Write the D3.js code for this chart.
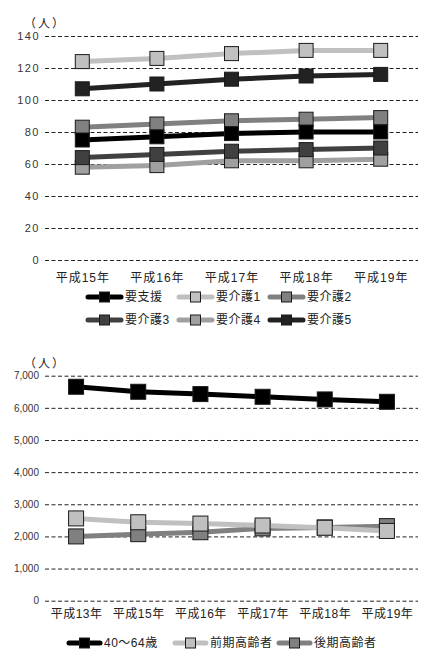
<!DOCTYPE html>
<html>
<head>
<meta charset="utf-8">
<script src="https://cdn.jsdelivr.net/npm/d3@7"></script>
<style>
    body { margin: 0; background: #fff; }
    text { font-family: "Liberation Sans", "Noto Sans CJK JP", sans-serif; fill: #222; }
</style>
</head>
<body>
<div id="chart"></div>
<script>
// top chart: 要支援・要介護 by year
const years1 = ["平成15年", "平成16年", "平成17年", "平成18年", "平成19年"];
const names1 = ["要支援", "要介護1", "要介護2", "要介護3", "要介護4", "要介護5"];
const yoshien = [75, 77, 79, 80, 80];
const kaigo1 = [124, 126, 129, 131, 131];
const kaigo2 = [83, 85, 87, 88, 89];
const kaigo3 = [64, 66, 68, 69, 70];
const kaigo4 = [58, 59, 62, 62, 63];
const kaigo5 = [107, 110, 113, 115, 116];
const ticks1 = [0, 20, 40, 60, 80, 100, 120, 140];

// bottom chart: population by age group
const years2 = ["平成13年", "平成15年", "平成16年", "平成17年", "平成18年", "平成19年"];
const names2 = ["40～64歳", "前期高齢者", "後期高齢者"];
const age40to64 = [6656, 6500, 6428, 6344, 6262, 6188];
const zenki = [2560, 2440, 2400, 2340, 2270, 2170];
const kouki = [2000, 2070, 2130, 2250, 2280, 2320];
const ticks2 = [0, 1000, 2000, 3000, 4000, 5000, 6000, 7000];

var svg = d3.select("#chart")
    .append("svg")
    .attr("width", 428)
    .attr("height", 650)
    .style("display", "block");

function drawChart(cfg) {
    var xScale = d3.scalePoint()
        .domain(cfg.cats)
        .range([45, 418])
        .padding(0.5);

    var yScale = d3.scaleLinear()
        .domain([0, d3.max(cfg.ticks)])
        .range([cfg.bottom, cfg.top]);

    // dashed grid lines + y labels
    var yAxis = svg.append("g")
        .attr("transform", "translate(45,0)")
        .call(d3.axisLeft(yScale)
            .tickValues(cfg.ticks)
            .tickSize(-373)
            .tickPadding(cfg.yPad)
            .tickFormat(cfg.yFormat));
    yAxis.select(".domain").remove();
    yAxis.selectAll(".tick line")
        .attr("stroke", "#222")
        .attr("stroke-dasharray", "4,2.5");
    yAxis.selectAll(".tick text")
        .style("font-size", cfg.yFont)
        .style("letter-spacing", cfg.ySpacing)
        .style("fill", "#333");

    var xAxis = svg.append("g")
        .attr("transform", `translate(0, ${cfg.bottom})`)
        .call(d3.axisBottom(xScale).tickSize(0).tickPadding(cfg.xPad));
    xAxis.select(".domain").remove();
    xAxis.selectAll(".tick text")
        .style("font-size", "12px")
        .style("letter-spacing", cfg.xSpacing)
        .style("fill", "#222");

    svg.append("text")
        .attr("x", 24)
        .attr("y", cfg.top - 8)
        .style("font-size", "12px")
        .style("letter-spacing", "2px")
        .text("（人）");

    var line = d3.line()
        .x(function (d, i) { return xScale(cfg.cats[i]); })
        .y(function (d) { return yScale(d); });

    // first series ends up on top
    var series = cfg.series.slice().reverse();

    series.forEach(function (s) {
        var g = svg.append("g");
        g.append("path")
            .datum(s.values)
            .attr("d", line)
            .attr("fill", "none")
            .attr("stroke", s.color)
            .attr("stroke-width", 5);
        g.selectAll("rect")
            .data(s.values)
            .join("rect")
            .attr("x", function (d, i) { return xScale(cfg.cats[i]) - cfg.mk / 2; })
            .attr("y", function (d) { return yScale(d) - cfg.mk / 2; })
            .attr("width", cfg.mk)
            .attr("height", cfg.mk)
            .attr("fill", s.color)
            .attr("stroke", "#1a1a1a")
            .attr("stroke-width", 1);
    });

    // legend
    cfg.series.forEach(function (s, i) {
        var lx = cfg.legX[i % cfg.legX.length],
            ly = cfg.legY[Math.floor(i / cfg.legX.length)];
        var lg = svg.append("g").attr("transform", `translate(${lx}, ${ly})`);
        lg.append("line")
            .attr("x1", 2).attr("x2", cfg.legLen - 2)
            .attr("y1", 0).attr("y2", 0)
            .attr("stroke", s.color)
            .attr("stroke-width", 5)
            .attr("stroke-linecap", "round");
        lg.append("rect")
            .attr("x", cfg.legLen / 2 - 5)
            .attr("y", -5)
            .attr("width", 10)
            .attr("height", 10)
            .attr("fill", s.color)
            .attr("stroke", "#1a1a1a");
        lg.append("text")
            .attr("x", cfg.legLen + 2)
            .attr("y", 0)
            .attr("dy", "0.36em")
            .style("font-size", "12px")
            .style("letter-spacing", "0.5px")
            .text(s.name);
    });
}

var colors1 = ["#000000", "#c0c0c0", "#808080", "#404040", "#a0a0a0", "#222222"];
var data1 = [yoshien, kaigo1, kaigo2, kaigo3, kaigo4, kaigo5];

drawChart({
    cats: years1,
    ticks: ticks1,
    top: 36,
    bottom: 260,
    yPad: 5,
    yFont: "11px",
    ySpacing: "1.5px",
    yFormat: d3.format("d"),
    xPad: 13,
    xSpacing: "1px",
    mk: 14,
    series: names1.map(function (n, i) { return {name: n, values: data1[i], color: colors1[i]}; }),
    legX: [86, 177, 268],
    legY: [297, 320],
    legLen: 37
});

var colors2 = ["#000000", "#c0c0c0", "#808080"];
var data2 = [age40to64, zenki, kouki];

drawChart({
    cats: years2,
    ticks: ticks2,
    top: 375.7,
    bottom: 600.7,
    yPad: 6,
    yFont: "10px",
    ySpacing: "0px",
    yFormat: d3.format(","),
    xPad: 9,
    xSpacing: "0.5px",
    mk: 15,
    series: names2.map(function (n, i) { return {name: n, values: data2[i], color: colors2[i]}; }),
    legX: [67, 173, 277],
    legY: [643],
    legLen: 35
});
</script>
</body>
</html>
